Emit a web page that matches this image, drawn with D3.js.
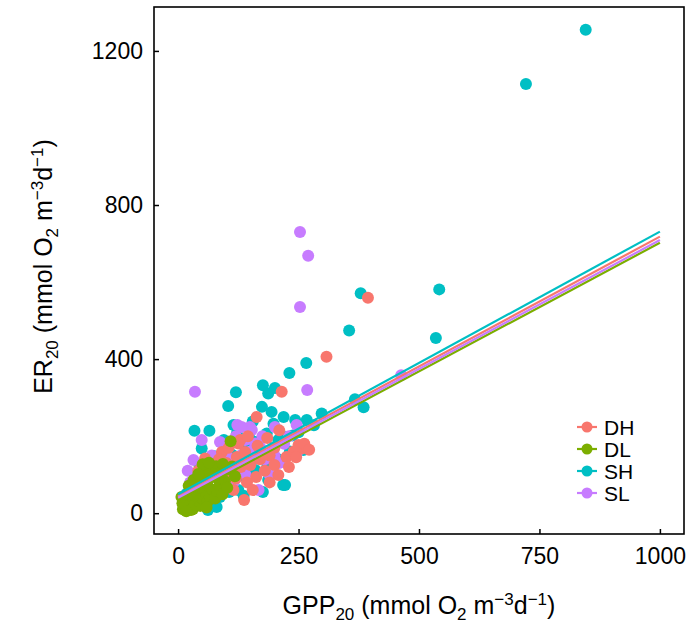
<!DOCTYPE html>
<html>
<head>
<meta charset="utf-8">
<script src="https://cdn.jsdelivr.net/npm/d3@7"></script>
<style>
  body { margin: 0; background: #fff; }
  text { font-family: "Liberation Sans", Arial, Helvetica, sans-serif; }
</style>
</head>
<body>
<div id="chart"></div>
<script>
// groups and colours (ggplot default hues)
const groups = ["DH", "DL", "SH", "SL"];
const colours = ["#F8766D", "#7CAE00", "#00BFC4", "#C77CFF"];

// fitted lines: ER = a + b * GPP
const fitIntercept = [44, 34, 49, 40];
const fitSlope     = [0.674, 0.668, 0.682, 0.669];

const xTicks = [0, 250, 500, 750, 1000];
const yTicks = [0, 400, 800, 1200];

// GPP20 / ER20 points per group
const dhGPP = [394, 308, 215, 163, 250, 129, 91, 56, 122, 139, 225, 208, 162, 180, 137, 143, 257, 125,
  70, 80, 100, 110, 60, 95, 150, 170, 190, 200, 240, 230, 115, 105, 75, 85, 130, 165, 185, 210, 50, 42, 120, 155, 190, 145, 245, 262, 272, 200];
const dhER  = [559, 406, 315, 250, 177, 190, 159, 142, 146, 159, 146, 99, 94, 110, 34, 80, 168, 181,
  120, 95, 130, 100, 100, 75, 125, 140, 150, 170, 160, 120, 60, 170, 60, 140, 120, 175, 195, 215, 80, 110, 90, 60, 80, 200, 145, 180, 165, 125];

const dlGPP = [109, 10, 14, 21, 26, 31, 36, 41, 46, 52, 57, 61, 66, 72, 77, 81, 86, 92, 97, 102,
  19, 28, 39, 48, 58, 69, 79, 88, 13, 24, 34, 44, 55, 63, 74, 83, 99, 112, 118, 9, 22, 32, 51, 64, 42, 27, 17, 59, 7, 93];
const dlER  = [187, 10, 21, 14, 32, 11, 26, 42, 19, 36, 52, 29, 44, 61, 38, 57, 72, 49, 83, 66,
  47, 62, 76, 93, 112, 97, 122, 106, 36, 56, 47, 67, 78, 87, 101, 90, 112, 121, 96, 26, 71, 86, 127, 131, 102, 8, 5, 15, 42, 128];

const shGPP = [846, 722, 542, 379, 355, 535, 266, 231, 367, 385, 298, 267, 243, 219, 194, 174, 104, 176, 201, 187, 120,
  34, 65, 115, 184, 162, 208, 225, 260, 49, 218, 80, 62, 222, 187, 125,
  30, 40, 55, 70, 90, 112, 132, 150, 170, 100, 140, 205, 238, 282, 20, 45, 75, 60, 95, 122, 155, 198, 250, 160, 12, 17, 35, 87, 106, 136, 176, 148, 232, 185];
const shER  = [1255, 1114, 581, 571, 474, 455, 390, 364, 296, 275, 259, 242, 242, 250, 263, 276, 278, 332, 325, 311, 314,
  214, 214, 229, 207, 185, 190, 198, 164, 168, 73, 16, 8, 73, 86, 60,
  40, 62, 92, 108, 128, 152, 98, 131, 158, 82, 168, 142, 202, 228, 30, 122, 148, 72, 190, 206, 238, 232, 210, 112, 25, 50, 96, 42, 55, 45, 55, 195, 160, 120];

const slGPP = [253, 270, 253, 268, 463, 35, 123, 149, 201, 246, 49, 87, 170, 243, 32, 167, 132, 153, 139, 160, 246,
  20, 30, 45, 60, 75, 90, 110, 130, 150, 180, 200, 220, 100, 70, 55, 25, 40, 85, 115, 140, 190, 210, 175, 230, 120, 20];
const slER  = [730, 668, 535, 320, 358, 315, 229, 224, 224, 229, 190, 185, 172, 151, 138, 60, 224, 216, 190, 181, 155,
  20, 50, 70, 90, 115, 135, 140, 150, 160, 140, 150, 180, 160, 150, 120, 80, 30, 60, 80, 100, 100, 130, 200, 200, 200, 110];

const series = [
  { name: "DH", gpp: dhGPP, er: dhER },
  { name: "DL", gpp: dlGPP, er: dlER },
  { name: "SH", gpp: shGPP, er: shER },
  { name: "SL", gpp: slGPP, er: slER }
];

const width  = 690;
const height = 630;
const panel = { left: 154, top: 7, right: 684, bottom: 534 };

const svg = d3.select("#chart")
  .append("svg")
  .attr("width", width)
  .attr("height", height);

const x = d3.scaleLinear().domain([-50, 1050]).range([panel.left, panel.right]);
const y = d3.scaleLinear().domain([-54, 1314]).range([panel.bottom, panel.top]);
const colour = d3.scaleOrdinal().domain(groups).range(colours);

// points: drawn so that DL sits on top, as in the reference
const drawOrder = ["SH", "SL", "DH", "DL"];
const points = drawOrder.flatMap(g => {
  const s = series.find(d => d.name === g);
  return s.gpp.map((v, i) => ({ group: g, gpp: v, er: s.er[i] }));
});

svg.append("g")
  .selectAll("circle")
  .data(points)
  .join("circle")
    .attr("cx", d => x(d.gpp))
    .attr("cy", d => y(d.er))
    .attr("r", 6)
    .attr("fill", d => colour(d.group));

// regression lines over 0..1000
const lineData = groups.map((g, i) => ({
  group: g,
  values: [0, 1000].map(v => ({ gpp: v, er: fitIntercept[i] + fitSlope[i] * v }))
}));
const line = d3.line().x(d => x(d.gpp)).y(d => y(d.er));

svg.append("g")
  .selectAll("path")
  .data(lineData)
  .join("path")
    .attr("d", d => line(d.values))
    .attr("fill", "none")
    .attr("stroke", d => colour(d.group))
    .attr("stroke-width", 2.2);

// axes, ticks pointing inward
const xAxis = svg.append("g")
  .attr("transform", `translate(0,${panel.bottom})`)
  .call(d3.axisBottom(x).tickValues(xTicks).tickFormat(d3.format("d"))
    .tickSizeInner(-5).tickSizeOuter(0).tickPadding(14));
const yAxis = svg.append("g")
  .attr("transform", `translate(${panel.left},0)`)
  .call(d3.axisLeft(y).tickValues(yTicks).tickFormat(d3.format("d"))
    .tickSizeInner(-5).tickSizeOuter(0).tickPadding(11));

[xAxis, yAxis].forEach(a => {
  a.select(".domain").remove();
  a.selectAll(".tick line").attr("stroke", "#000").attr("stroke-width", 1.5);
  a.selectAll(".tick text").attr("fill", "#000").style("font-size", "23px")
    .style("font-family", "'Liberation Sans', Arial, sans-serif");
});

// panel border
svg.append("rect")
  .attr("x", panel.left)
  .attr("y", panel.top)
  .attr("width", panel.right - panel.left)
  .attr("height", panel.bottom - panel.top)
  .attr("fill", "none")
  .attr("stroke", "#000")
  .attr("stroke-width", 1.6);

// axis titles with sub/superscripts
const addTitle = (sel, main) => {
  sel.append("tspan").text(main);
  sel.append("tspan").text("20").attr("dy", 6).style("font-size", "17px");
  sel.append("tspan").text(" (mmol O").attr("dy", -6);
  sel.append("tspan").text("2").attr("dy", 6).style("font-size", "17px");
  sel.append("tspan").text(" m").attr("dy", -6);
  sel.append("tspan").text("\u22123").attr("dy", -9).style("font-size", "17px");
  sel.append("tspan").text("d").attr("dy", 9);
  sel.append("tspan").text("\u22121").attr("dy", -9).style("font-size", "17px");
  sel.append("tspan").text(")").attr("dy", 9);
};

svg.append("text")
  .attr("x", (panel.left + panel.right) / 2)
  .attr("y", 614)
  .attr("text-anchor", "middle")
  .style("font-size", "25px")
  .call(addTitle, "GPP");

svg.append("text")
  .attr("transform", `translate(52,${(panel.top + panel.bottom) / 2 - 4}) rotate(-90)`)
  .attr("text-anchor", "middle")
  .style("font-size", "25px")
  .call(addTitle, "ER");

// legend
const legend = svg.append("g").attr("transform", "translate(587,427)");
const item = legend.selectAll("g")
  .data(groups)
  .join("g")
    .attr("transform", (d, i) => `translate(0,${i * 22})`);
item.append("line")
  .attr("x1", -10).attr("x2", 10)
  .attr("stroke", d => colour(d))
  .attr("stroke-width", 2.2);
item.append("circle")
  .attr("r", 5.5)
  .attr("fill", d => colour(d));
item.append("text")
  .attr("x", 17)
  .attr("dy", "0.36em")
  .style("font-size", "21px")
  .text(d => d);
</script>
</body>
</html>
